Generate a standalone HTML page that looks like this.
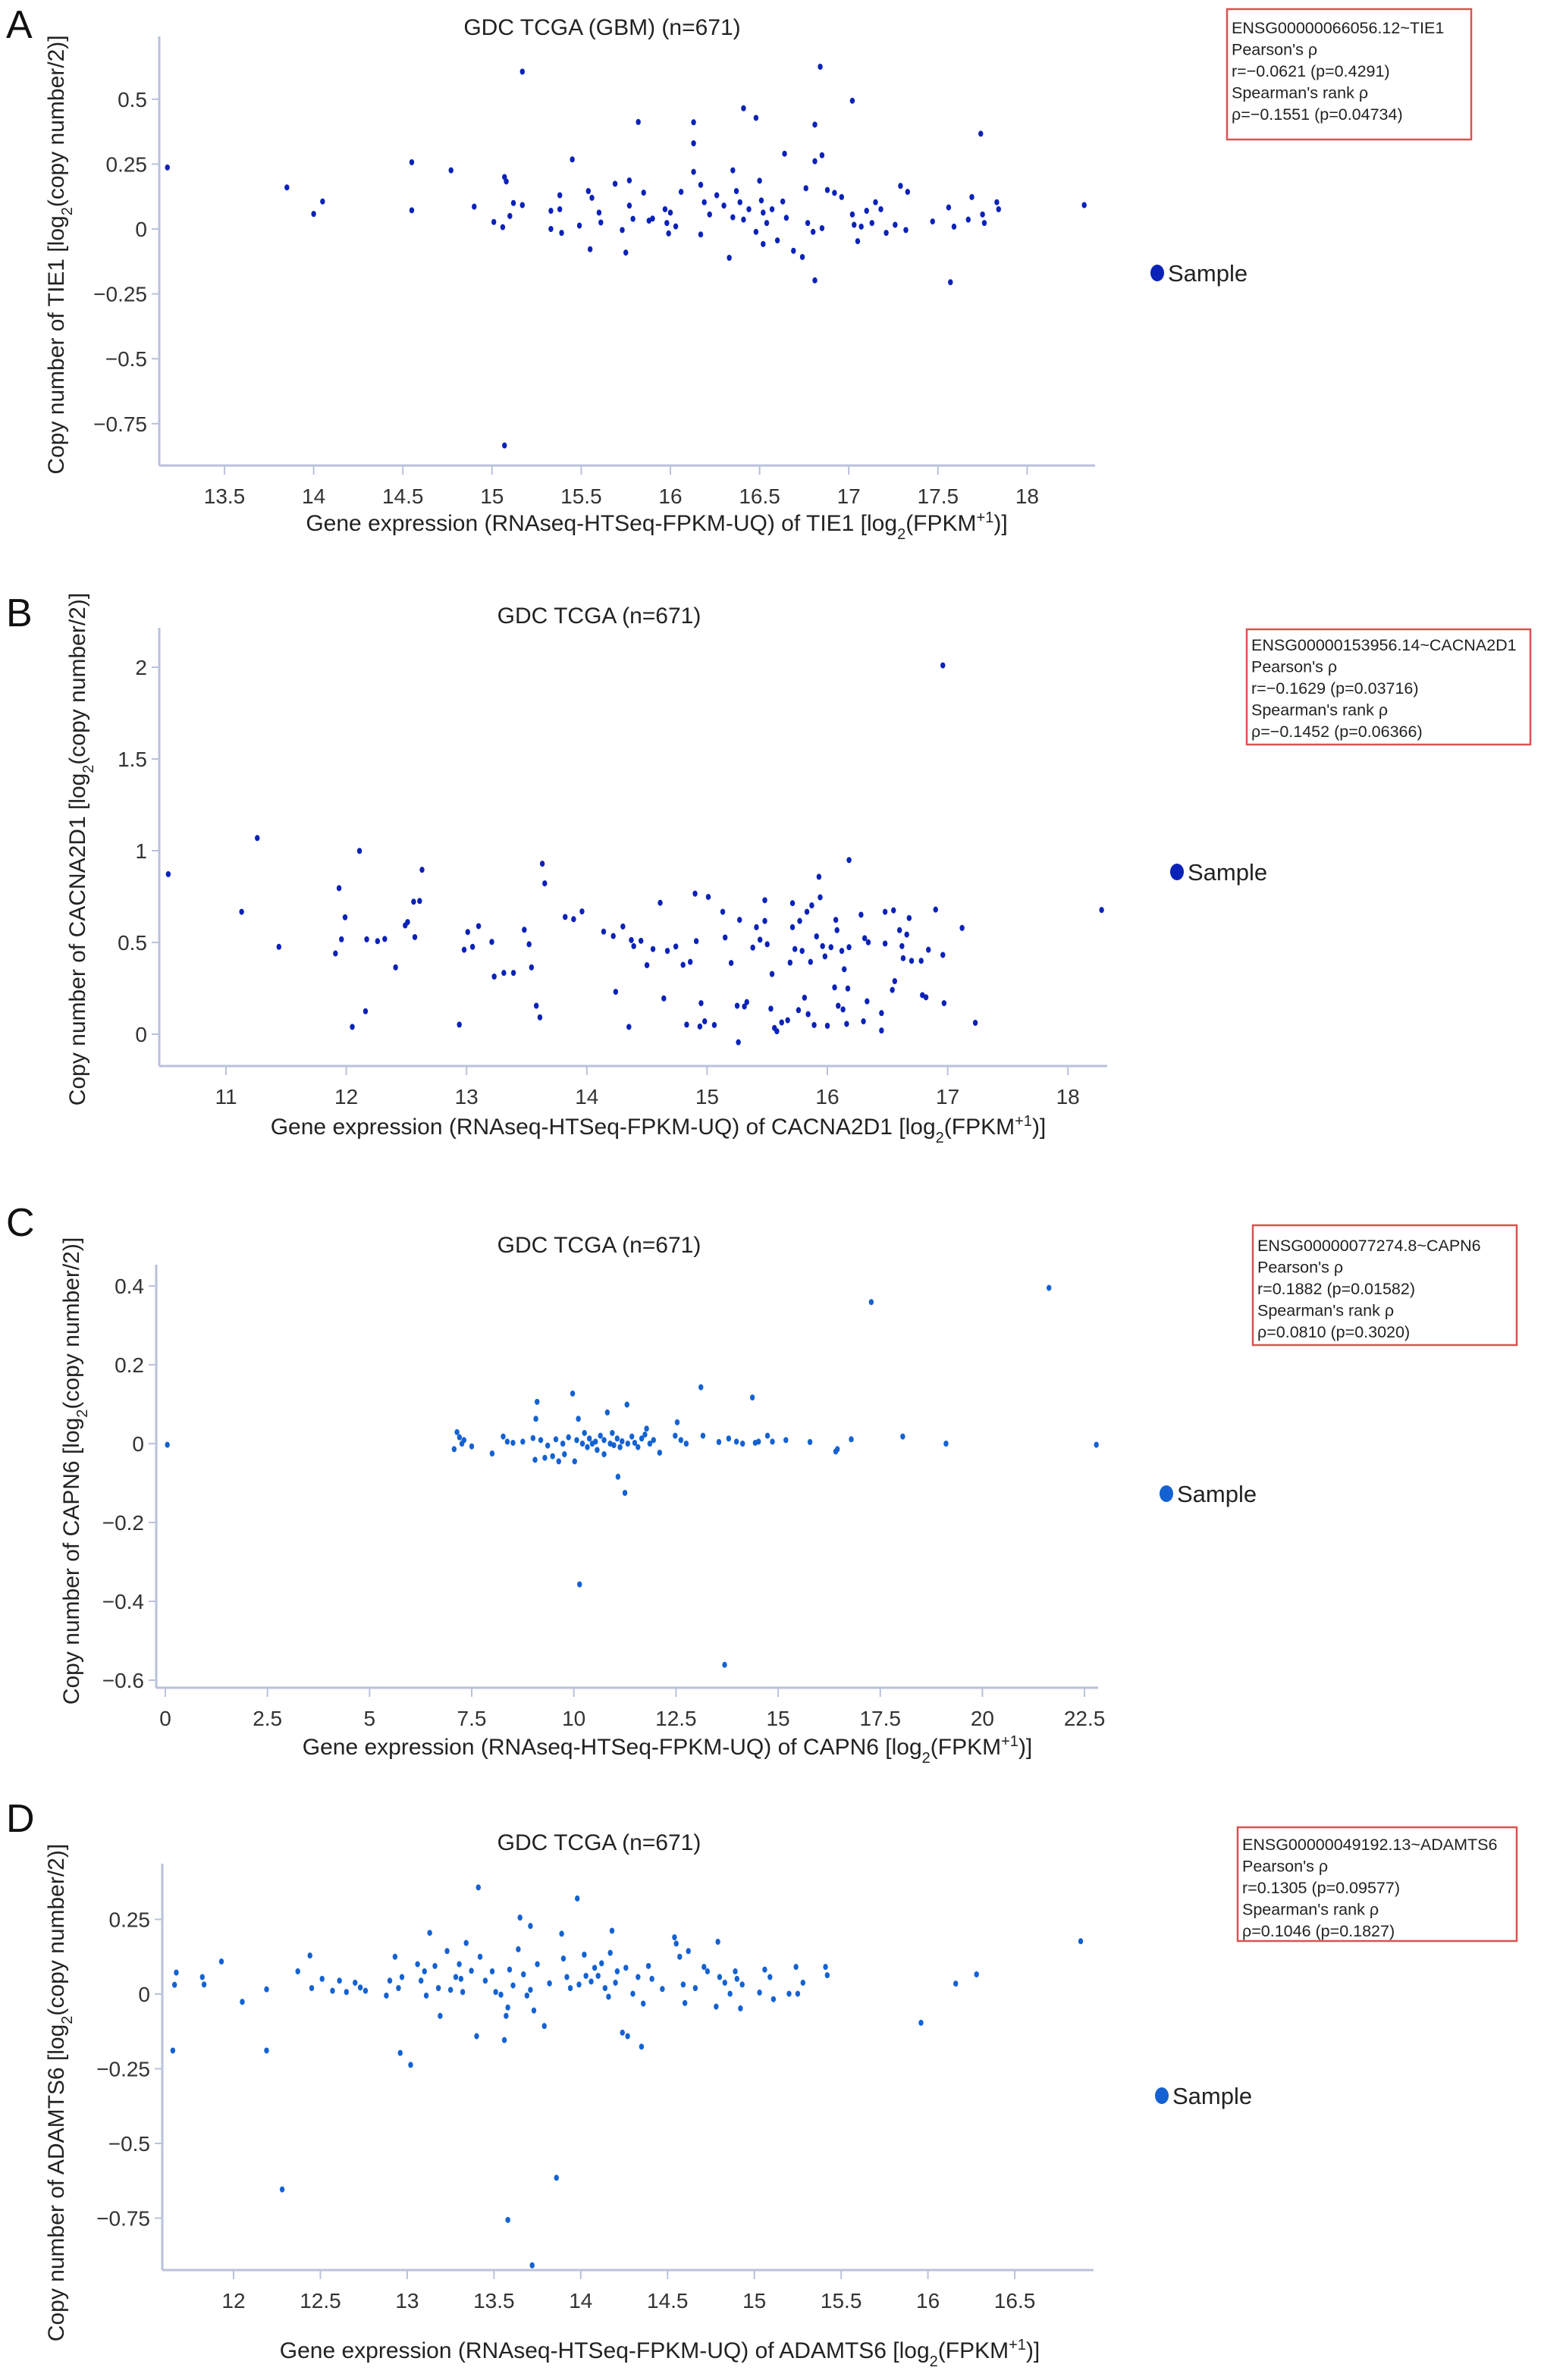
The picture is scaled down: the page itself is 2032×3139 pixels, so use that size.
<!DOCTYPE html>
<html><head><meta charset="utf-8">
<style>
html,body{margin:0;padding:0;background:#fff;}
svg{display:block;font-family:"Liberation Sans",Arial,sans-serif;}
</style></head>
<body>
<svg id="fig" width="2032" height="3139" viewBox="0 0 2032 3139" xmlns="http://www.w3.org/2000/svg"></svg>
<script>
// ---- Panel A data ----
const aX = [13.18,13.85,14.05,14.0,14.55,14.55,14.77,14.9,15.17,15.07,15.07,15.08,15.1,15.01,15.06,15.12,15.17,15.33,15.33,15.38,15.38,15.39,15.45,15.49,15.54,15.56,15.55,15.6,15.61,15.69,15.73,15.75,15.77,15.77,15.79,15.82,15.85,15.88,15.9,15.97,15.98,15.99,16.0,16.03,16.06,16.13,16.13,16.13,16.17,16.17,16.19,16.22,16.26,16.3,16.35,16.33,16.35,16.37,16.39,16.41,16.41,16.44,16.48,16.48,16.5,16.51,16.52,16.52,16.54,16.57,16.6,16.63,16.64,16.65,16.69,16.74,16.76,16.77,16.8,16.81,16.81,16.81,16.84,16.85,16.85,16.88,16.92,16.96,17.02,17.02,17.03,17.05,17.07,17.1,17.13,17.15,17.18,17.21,17.26,17.29,17.33,17.32,17.47,17.56,17.57,17.59,17.67,17.69,17.74,17.75,17.76,17.83,17.84,18.32];
const aY = [0.237,0.16,0.106,0.058,0.257,0.072,0.226,0.086,0.606,-0.834,0.2,0.183,0.05,0.027,0.007,0.1,0.092,0.07,0,0.13,0.076,-0.015,0.268,0.013,0.146,0.12,-0.078,0.063,0.025,0.174,-0.004,-0.091,0.187,0.09,0.039,0.412,0.14,0.032,0.04,0.076,0.023,-0.017,0.063,0.01,0.143,0.411,0.33,0.22,0.17,-0.021,0.103,0.056,0.13,0.09,0.226,-0.111,0.045,0.146,0.103,0.465,0.036,0.076,0.428,-0.011,0.186,0.11,0.063,-0.058,0.023,0.076,-0.044,0.106,0.29,0.043,-0.084,-0.108,0.157,0.023,-0.011,0.402,0.261,-0.198,0.625,0.284,0.003,0.15,0.139,0.123,0.494,0.056,0.016,-0.047,0.009,0.07,0.023,0.103,0.076,-0.015,0.016,0.166,0.143,-0.004,0.029,0.083,-0.205,0.009,0.036,0.123,0.367,0.056,0.023,0.103,0.076,0.092];
const aXTicks = [13.5,14,14.5,15,15.5,16,16.5,17,17.5,18];
const aXLabels = ["13.5","14","14.5","15","15.5","16","16.5","17","17.5","18"];
const aYTicks = [0.5,0.25,0,-0.25,-0.5,-0.75];
const aYLabels = ["0.5","0.25","0","−0.25","−0.5","−0.75"];

// ---- Panel B data ----
const bX = [10.52,11.13,11.26,11.44,11.91,11.94,11.96,11.99,12.05,12.11,12.16,12.17,12.26,12.32,12.41,12.49,12.51,12.56,12.57,12.61,12.63,12.94,12.98,13.01,13.05,13.1,13.21,13.23,13.31,13.39,13.48,13.52,13.54,13.58,13.61,13.63,13.65,13.82,13.89,13.96,14.14,14.22,14.24,14.3,14.35,14.37,14.39,14.45,14.5,14.55,14.61,14.64,14.67,14.74,14.8,14.83,14.86,14.9,14.91,14.95,14.94,14.98,15.01,15.06,15.13,15.15,15.2,15.25,15.26,15.27,15.31,15.33,15.38,15.41,15.44,15.48,15.48,15.5,15.53,15.54,15.56,15.58,15.62,15.67,15.69,15.71,15.71,15.73,15.76,15.77,15.79,15.81,15.83,15.84,15.86,15.87,15.89,15.91,15.93,15.94,15.96,15.98,16.0,16.03,16.06,16.07,16.08,16.09,16.12,16.13,16.14,16.16,16.17,16.18,16.18,16.28,16.3,16.31,16.33,16.34,16.45,16.45,16.48,16.48,16.54,16.55,16.56,16.6,16.62,16.63,16.66,16.68,16.7,16.78,16.79,16.82,16.84,16.9,16.96,16.96,16.97,17.12,17.23,18.28];
const bY = [0.872,0.667,1.069,0.476,0.44,0.796,0.517,0.637,0.04,0.999,0.125,0.517,0.507,0.519,0.364,0.593,0.611,0.722,0.529,0.726,0.896,0.052,0.46,0.557,0.476,0.589,0.503,0.314,0.334,0.334,0.569,0.49,0.364,0.155,0.092,0.929,0.822,0.639,0.627,0.669,0.559,0.535,0.231,0.587,0.04,0.513,0.48,0.509,0.376,0.464,0.716,0.195,0.454,0.478,0.378,0.052,0.394,0.766,0.507,0.169,0.042,0.07,0.748,0.05,0.667,0.527,0.388,0.155,-0.044,0.623,0.151,0.175,0.472,0.583,0.515,0.617,0.73,0.49,0.139,0.328,0.034,0.016,0.064,0.076,0.39,0.714,0.583,0.464,0.131,0.617,0.454,0.199,0.667,0.109,0.394,0.702,0.05,0.533,0.858,0.746,0.48,0.424,0.046,0.474,0.255,0.623,0.567,0.155,0.454,0.135,0.354,0.056,0.249,0.949,0.474,0.651,0.07,0.523,0.179,0.501,0.02,0.115,0.494,0.667,0.241,0.675,0.289,0.567,0.48,0.414,0.543,0.633,0.4,0.4,0.213,0.201,0.46,0.679,0.432,2.01,0.169,0.579,0.062,0.677];
const bXTicks = [11,12,13,14,15,16,17,18];
const bXLabels = ["11","12","13","14","15","16","17","18"];
const bYTicks = [2,1.5,1,0.5,0];
const bYLabels = ["2","1.5","1","0.5","0"];

// ---- Panel C data ----
const cX = [0.05,7.07,7.14,7.2,7.26,7.31,7.5,8.0,8.27,8.37,8.51,8.75,9.0,9.05,9.07,9.1,9.19,9.29,9.36,9.48,9.56,9.63,9.73,9.77,9.87,9.97,10.02,10.07,10.11,10.14,10.21,10.26,10.33,10.38,10.45,10.53,10.57,10.65,10.74,10.74,10.82,10.89,10.94,10.98,11.06,11.08,11.13,11.18,11.25,11.3,11.32,11.42,11.49,11.57,11.66,11.74,11.78,11.86,11.95,12.1,12.48,12.53,12.62,12.75,13.11,13.16,13.55,13.69,13.79,13.98,14.13,14.37,14.44,14.52,14.74,14.86,15.19,15.78,16.41,16.45,16.79,17.28,18.05,19.11,21.63,22.79];
const cY = [-0.003,-0.014,0.029,0.016,0,0.009,-0.007,-0.025,0.018,0.005,0.002,0.005,0.014,-0.041,0.063,0.106,0.009,-0.036,-0.005,-0.032,0.011,-0.045,0,-0.027,0.016,0.127,-0.045,0.009,0.063,-0.357,0,0.027,-0.009,0.013,0,0.005,-0.016,0.02,-0.027,0.009,0.079,0,0.027,-0.004,0.013,-0.084,-0.009,0.006,-0.125,0.099,0,0.018,0.002,-0.009,0.013,0.023,0.038,0,0.009,-0.023,0.02,0.054,0.009,0,0.143,0.02,0.004,-0.561,0.013,0.005,0,0.117,0.002,0.005,0.02,0.005,0.009,0.004,-0.02,-0.014,0.011,0.359,0.018,0,0.395,-0.003];
const cXTicks = [0,2.5,5,7.5,10,12.5,15,17.5,20,22.5];
const cXLabels = ["0","2.5","5","7.5","10","12.5","15","17.5","20","22.5"];
const cYTicks = [0.4,0.2,0,-0.2,-0.4,-0.6];
const cYLabels = ["0.4","0.2","0","−0.2","−0.4","−0.6"];

// ---- Panel D data ----
const dX = [11.65,11.66,11.67,11.82,11.83,11.93,12.05,12.19,12.19,12.28,12.37,12.44,12.45,12.51,12.57,12.61,12.65,12.7,12.73,12.76,12.88,12.9,12.93,12.95,12.96,12.97,13.02,13.06,13.08,13.1,13.11,13.13,13.16,13.18,13.19,13.23,13.25,13.28,13.3,13.31,13.32,13.34,13.37,13.4,13.41,13.42,13.45,13.49,13.51,13.54,13.56,13.57,13.58,13.58,13.59,13.61,13.64,13.65,13.67,13.69,13.71,13.71,13.72,13.73,13.75,13.79,13.82,13.86,13.89,13.9,13.92,13.94,13.98,13.99,14.02,14.03,14.06,14.08,14.1,14.12,14.14,14.16,14.17,14.18,14.2,14.21,14.24,14.26,14.27,14.3,14.33,14.35,14.36,14.39,14.41,14.47,14.54,14.55,14.57,14.59,14.6,14.62,14.66,14.71,14.73,14.78,14.79,14.8,14.83,14.86,14.89,14.9,14.92,14.93,15.03,15.06,15.09,15.11,15.2,15.24,15.25,15.28,15.41,15.42,15.96,16.16,16.28,16.88];
const dY = [-0.189,0.031,0.072,0.057,0.032,0.109,-0.026,0.016,-0.189,-0.654,0.076,0.129,0.02,0.051,0.011,0.045,0.007,0.038,0.022,0.011,-0.005,0.045,0.125,0.02,-0.197,0.057,-0.237,0.1,0.045,0.076,-0.005,0.205,0.094,0.02,-0.073,0.144,0.014,0.057,0.1,0.051,0.007,0.171,0.078,-0.141,0.357,0.125,0.045,0.076,0.007,-0.002,-0.154,-0.073,-0.045,-0.756,0.082,0.029,0.15,0.256,0.066,-0.005,0.228,0.014,-0.908,-0.055,0.1,-0.107,0.036,-0.615,0.202,0.119,0.057,0.02,0.32,0.032,0.132,0.061,0.042,0.088,0.061,0.103,0.02,-0.009,0.138,0.212,0.038,0.076,-0.129,0.088,-0.141,0.001,0.057,-0.176,-0.032,0.094,0.051,0.017,0.19,0.169,0.125,0.032,-0.03,0.144,0.02,0.091,0.076,-0.042,0.175,0.057,0.038,0.001,0.076,0.051,-0.048,0.032,0.005,0.082,0.057,-0.017,0.001,0.091,0.001,0.038,0.091,0.063,-0.096,0.035,0.066,0.177];
const dXTicks = [12,12.5,13,13.5,14,14.5,15,15.5,16,16.5];
const dXLabels = ["12","12.5","13","13.5","14","14.5","15","15.5","16","16.5"];
const dYTicks = [0.25,0,-0.25,-0.5,-0.75];
const dYLabels = ["0.25","0","−0.25","−0.5","−0.75"];

const NS = "http://www.w3.org/2000/svg";
const svg = document.getElementById('fig');
function mk(tag, attrs, parent, text){
  const e = document.createElementNS(NS, tag);
  for (const k in attrs) e.setAttribute(k, attrs[k]);
  if (text !== undefined) e.textContent = text;
  (parent||svg).appendChild(e);
  return e;
}
function axisTitle(g, x, y, rot, gene, kind){
  const t = mk('text', {x:x, y:y, 'font-size':30, 'text-anchor':'middle', fill:'#222', transform: rot ? 'rotate(-90 '+x+' '+y+')' : ''}, g);
  if (kind === 'y'){
    t.appendChild(document.createTextNode('Copy number of '+gene+' [log'));
    mk('tspan', {'baseline-shift':'sub','font-size':20}, t, '2');
    t.appendChild(document.createTextNode('(copy number/2)]'));
  } else {
    t.appendChild(document.createTextNode('Gene expression (RNAseq-HTSeq-FPKM-UQ) of '+gene+' [log'));
    mk('tspan', {'baseline-shift':'sub','font-size':20}, t, '2');
    t.appendChild(document.createTextNode('(FPKM'));
    mk('tspan', {'baseline-shift':'super','font-size':20}, t, '+1');
    t.appendChild(document.createTextNode(')]'));
  }
  return t;
}

function panel(p){
  const g = mk('g', {});
  
  
  const xs = v => p.x0px + (v - p.x0v) * p.xk;
  const ys = v => p.y0px - (v - p.y0v) * p.yk;
  const lbl = mk('text', {x:8, y:p.letterY, 'font-size':52, fill:'#111'}, g, p.letter);
  
  
  const title = mk('text', {x:p.titleX, y:p.titleY, 'font-size':30, 'text-anchor':'middle', fill:'#222'}, g, p.title);
  
  
  const ya = mk('line', {x1:p.ax, y1:p.top, x2:p.ax, y2:p.bottom, stroke:'#b9c2dc', 'stroke-width':3}, g);
  
  
  const xa = mk('line', {x1:p.ax, y1:p.bottom, x2:p.right, y2:p.bottom, stroke:'#b9c2dc', 'stroke-width':3}, g);
  
  
  p.xt.forEach((v,i)=>{
    const x = xs(v);
    mk('line', {x1:x, y1:p.bottom, x2:x, y2:p.bottom+12, stroke:'#b9c2dc', 'stroke-width':2}, g);
    const t = mk('text', {x:x, y:p.bottom+50, 'font-size':28, 'text-anchor':'middle', fill:'#333'}, g, p.xl[i]);
    
    
  });
  p.yt.forEach((v,i)=>{
    const y = ys(v);
    mk('line', {x1:p.ax-10, y1:y, x2:p.ax, y2:y, stroke:'#b9c2dc', 'stroke-width':2}, g);
    const t = mk('text', {x:p.ax-16, y:y+10, 'font-size':28, 'text-anchor':'end', fill:'#333'}, g, p.yl[i]);
    
    
  });
  const xt = axisTitle(g, p.xtX, p.xtY, false, p.gene, 'x');
  
  
  const yt = axisTitle(g, p.ytX, p.ytY, true, p.gene, 'y');
  
  
  p.px.forEach((v,i)=>{
    const c = mk('ellipse', {cx:xs(v), cy:ys(p.py[i]), rx:3.2, ry:4, fill:p.color}, g);
    
    
  });
  const lg = mk('g', {}, g);
  
  
  mk('ellipse', {cx:p.legX, cy:p.legY, rx:9, ry:11, fill:p.color}, lg);
  mk('text', {x:p.legX+14, y:p.legY+11, 'font-size':31, fill:'#222'}, lg, 'Sample');
  const bx = mk('g', {}, g);
  
  
  mk('rect', {x:p.box[0], y:p.box[1], width:p.box[2], height:p.box[3], fill:'#fff', stroke:'#d9534f', 'stroke-width':2.5}, bx);
  p.boxLines.forEach((s,i)=>{
    mk('text', {x:p.box[0]+6, y:p.box[1]+p.boxFirst+i*28.5, 'font-size':21.5, fill:'#222'}, bx, s);
  });
}

panel({id:'a', letter:'A', letterY:50, title:'GDC TCGA (GBM) (n=671)', titleX:794, titleY:46, gene:'TIE1',
  x0v:13.5, x0px:296, xk:235.2, y0v:0, y0px:302, yk:342.4,
  ax:210, top:48, bottom:614, right:1444,
  xt:aXTicks, xl:aXLabels, yt:aYTicks, yl:aYLabels, px:aX, py:aY, color:'#0b22b8',
  xtX:866, xtY:700, ytX:84, ytY:336, legX:1526, legY:360,
  box:[1618,12,322,172], boxFirst:32,
  boxLines:['ENSG00000066056.12~TIE1',"Pearson's ρ",'r=−0.0621 (p=0.4291)',"Spearman's rank ρ",'ρ=−0.1551 (p=0.04734)']});

panel({id:'b', letter:'B', letterY:826, title:'GDC TCGA (n=671)', titleX:790, titleY:822, gene:'CACNA2D1',
  x0v:11, x0px:298, xk:158.6, y0v:0, y0px:1364, yk:242,
  ax:210, top:828, bottom:1406, right:1460,
  xt:bXTicks, xl:bXLabels, yt:bYTicks, yl:bYLabels, px:bX, py:bY, color:'#0b22b8',
  xtX:868, xtY:1496, ytX:112, ytY:1120, legX:1552, legY:1150,
  box:[1644,830,374,152], boxFirst:28,
  boxLines:['ENSG00000153956.14~CACNA2D1',"Pearson's ρ",'r=−0.1629 (p=0.03716)',"Spearman's rank ρ",'ρ=−0.1452 (p=0.06366)']});

panel({id:'c', letter:'C', letterY:1630, title:'GDC TCGA (n=671)', titleX:790, titleY:1652, gene:'CAPN6',
  x0v:0, x0px:218, xk:53.87, y0v:0, y0px:1904, yk:520,
  ax:206, top:1668, bottom:2226, right:1448,
  xt:cXTicks, xl:cXLabels, yt:cYTicks, yl:cYLabels, px:cX, py:cY, color:'#1462d2',
  xtX:880, xtY:2314, ytX:104, ytY:1940, legX:1538, legY:1970,
  box:[1652,1616,348,158], boxFirst:34,
  boxLines:['ENSG00000077274.8~CAPN6',"Pearson's ρ",'r=0.1882 (p=0.01582)',"Spearman's rank ρ",'ρ=0.0810 (p=0.3020)']});

panel({id:'d', letter:'D', letterY:2416, title:'GDC TCGA (n=671)', titleX:790, titleY:2440, gene:'ADAMTS6',
  x0v:12, x0px:308, xk:228.9, y0v:0, y0px:2630, yk:394,
  ax:214, top:2458, bottom:2994, right:1442,
  xt:dXTicks, xl:dXLabels, yt:dYTicks, yl:dYLabels, px:dX, py:dY, color:'#1462d2',
  xtX:870, xtY:3110, ytX:84, ytY:2760, legX:1532, legY:2764,
  box:[1632,2410,368,150], boxFirst:30,
  boxLines:['ENSG00000049192.13~ADAMTS6',"Pearson's ρ",'r=0.1305 (p=0.09577)',"Spearman's rank ρ",'ρ=0.1046 (p=0.1827)']});
</script>
</body></html>
